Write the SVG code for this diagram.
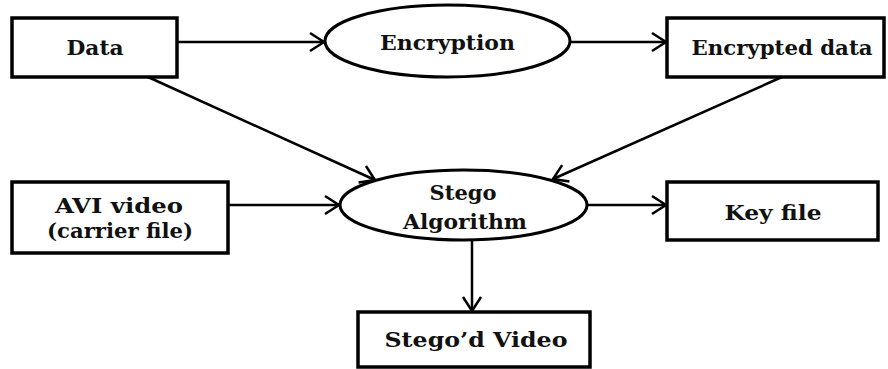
<svg xmlns="http://www.w3.org/2000/svg" width="888" height="369" viewBox="0 0 888 369">
<style>
.box{fill:#fff;stroke:#000;stroke-width:3.5}
.ell{fill:#fff;stroke:#000;stroke-width:3}
.lbl{font-family:'DejaVu Serif',serif;font-weight:bold;font-size:21px;fill:#111;text-anchor:middle}
.conn{stroke:#000;stroke-width:2.5;fill:none;marker-end:url(#arr)}
</style>
<defs>
<marker id="arr" markerUnits="userSpaceOnUse" markerWidth="18" markerHeight="22" refX="15" refY="11" orient="auto" overflow="visible">
<path d="M1,2 L15,11 L1,20" fill="none" stroke="#000" stroke-width="2.5"/>
</marker>
</defs>
<rect width="888" height="369" fill="#fff"/>
<g id="connectors">
<line class="conn" x1="177" y1="42" x2="324" y2="42"/>
<line class="conn" x1="570" y1="42" x2="666" y2="42"/>
<line class="conn" x1="148" y1="77" x2="375" y2="180"/>
<line class="conn" x1="782" y1="77" x2="553" y2="179"/>
<line class="conn" x1="228" y1="205" x2="339" y2="205"/>
<line class="conn" x1="587" y1="205" x2="666" y2="205"/>
<line class="conn" x1="472" y1="240" x2="472" y2="311"/>
</g>
<g id="data">
<rect class="box" x="12" y="18" width="165" height="59"/>
<text class="lbl" x="95" y="55" textLength="57" lengthAdjust="spacingAndGlyphs">Data</text>
</g>
<g id="encryption">
<ellipse class="ell" cx="447.5" cy="41" rx="122.5" ry="36"/>
<text class="lbl" x="447.5" y="50" textLength="135" lengthAdjust="spacingAndGlyphs">Encryption</text>
</g>
<g id="encrypted-data">
<rect class="box" x="667" y="18" width="217" height="59"/>
<text class="lbl" x="782" y="55" textLength="181" lengthAdjust="spacingAndGlyphs">Encrypted data</text>
</g>
<g id="avi-video">
<rect class="box" x="12" y="182" width="216" height="71"/>
<text class="lbl" x="119" y="213" textLength="128" lengthAdjust="spacingAndGlyphs">AVI video</text>
<text class="lbl" x="120" y="238" textLength="146" lengthAdjust="spacingAndGlyphs">(carrier file)</text>
</g>
<g id="stego-algorithm">
<ellipse class="ell" cx="463.5" cy="205" rx="123.5" ry="35"/>
<text class="lbl" x="463" y="200" textLength="67" lengthAdjust="spacingAndGlyphs">Stego</text>
<text class="lbl" x="465" y="229" textLength="124" lengthAdjust="spacingAndGlyphs">Algorithm</text>
</g>
<g id="key-file">
<rect class="box" x="667" y="182" width="211" height="58"/>
<text class="lbl" x="773" y="220" textLength="97" lengthAdjust="spacingAndGlyphs">Key file</text>
</g>
<g id="stegod-video">
<rect class="box" x="358" y="312" width="232" height="55"/>
<text class="lbl" x="476" y="347" textLength="183" lengthAdjust="spacingAndGlyphs">Stego’d Video</text>
</g>
</svg>
